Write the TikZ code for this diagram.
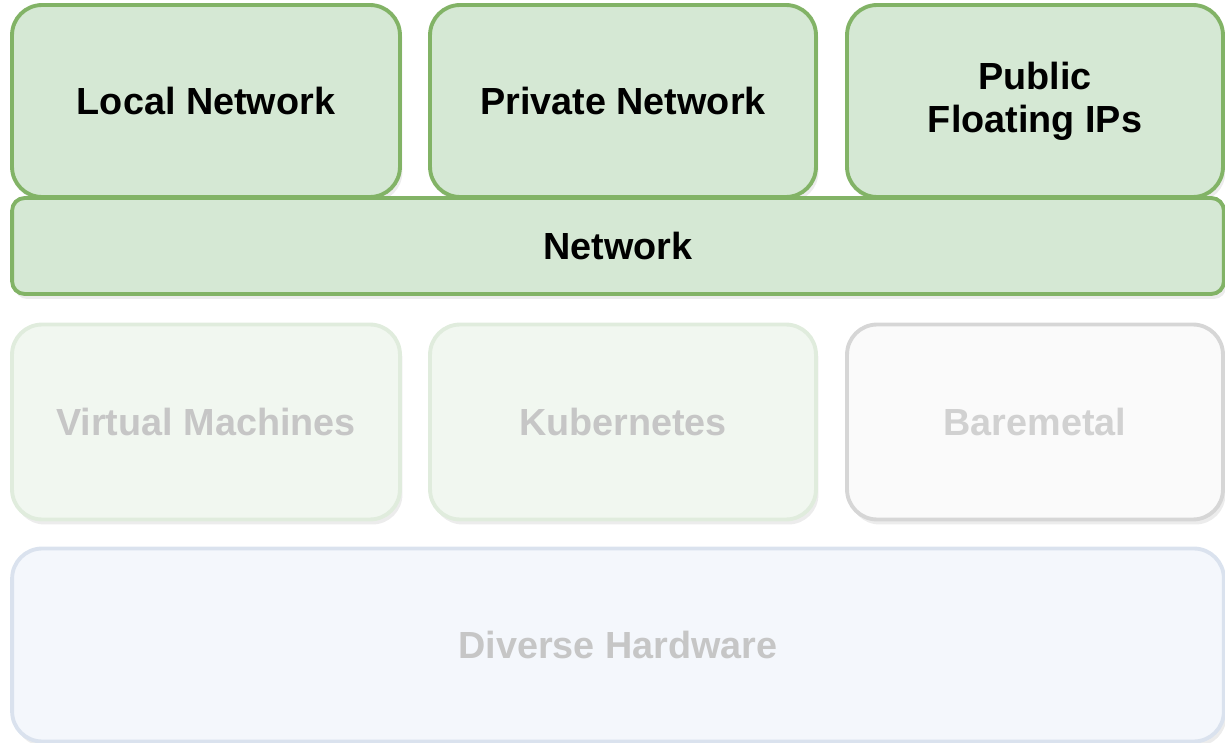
\documentclass[tikz,border=0pt]{standalone}
\usepackage{fontspec}
\setmainfont{Liberation Sans}
\usepackage{xcolor}
\usetikzlibrary{shadows,positioning}
\definecolor{netfill}{HTML}{D5E8D4}
\definecolor{netline}{HTML}{82B366}
\definecolor{vmfill}{HTML}{F1F7F0}
\definecolor{vmline}{HTML}{E0ECDD}
\definecolor{bmfill}{HTML}{FAFAFA}
\definecolor{bmline}{HTML}{D6D6D6}
\definecolor{hwfill}{HTML}{F4F7FC}
\definecolor{hwline}{HTML}{DAE2EE}
\definecolor{fadedtext}{HTML}{C6C6C6}
\begin{document}
\begin{tikzpicture}[x=0.02cm,y=-0.02cm,
  layer/.style={draw,line width=2.2pt,shape=rectangle,rounded corners=0.6cm,inner sep=0pt,outer sep=0pt,
    font=\fontsize{21.5}{24.5}\selectfont\bfseries,align=center,
    drop shadow={shadow xshift=0.05cm,shadow yshift=-0.1cm,opacity=0.12,fill=black!60}},
  netbox/.style={layer,fill=netfill,draw=netline,text=black},
  vmbox/.style={layer,fill=vmfill,draw=vmline,text=fadedtext},
  bmbox/.style={layer,fill=bmfill,draw=bmline,text=fadedtext!80},
  hwbox/.style={layer,fill=hwfill,draw=hwline,text=fadedtext}]
\useasboundingbox (0,0) rectangle (1225,743);
\node[netbox,minimum width=7.76cm,minimum height=3.84cm] (local) at (206,101) {Local Network};
\node[netbox,minimum width=7.72cm,minimum height=3.84cm] (private) at (623,101) {Private Network};
\node[netbox,minimum width=7.52cm,minimum height=3.84cm] (public) at (1035,101) {Public\\Floating IPs};
\node[netbox,rounded corners=0.25cm,minimum width=24.24cm,minimum height=1.92cm] (network) at (618,246) {Network};
\node[vmbox,minimum width=7.76cm,minimum height=3.9cm] (vm) at (206,422) {Virtual Machines};
\node[vmbox,minimum width=7.72cm,minimum height=3.9cm] (k8s) at (623,422) {Kubernetes};
\node[bmbox,minimum width=7.52cm,minimum height=3.9cm] (bare) at (1035,422) {Baremetal};
\node[hwbox,minimum width=24.24cm,minimum height=3.86cm] (hw) at (618,645) {Diverse Hardware};
\end{tikzpicture}
\end{document}
